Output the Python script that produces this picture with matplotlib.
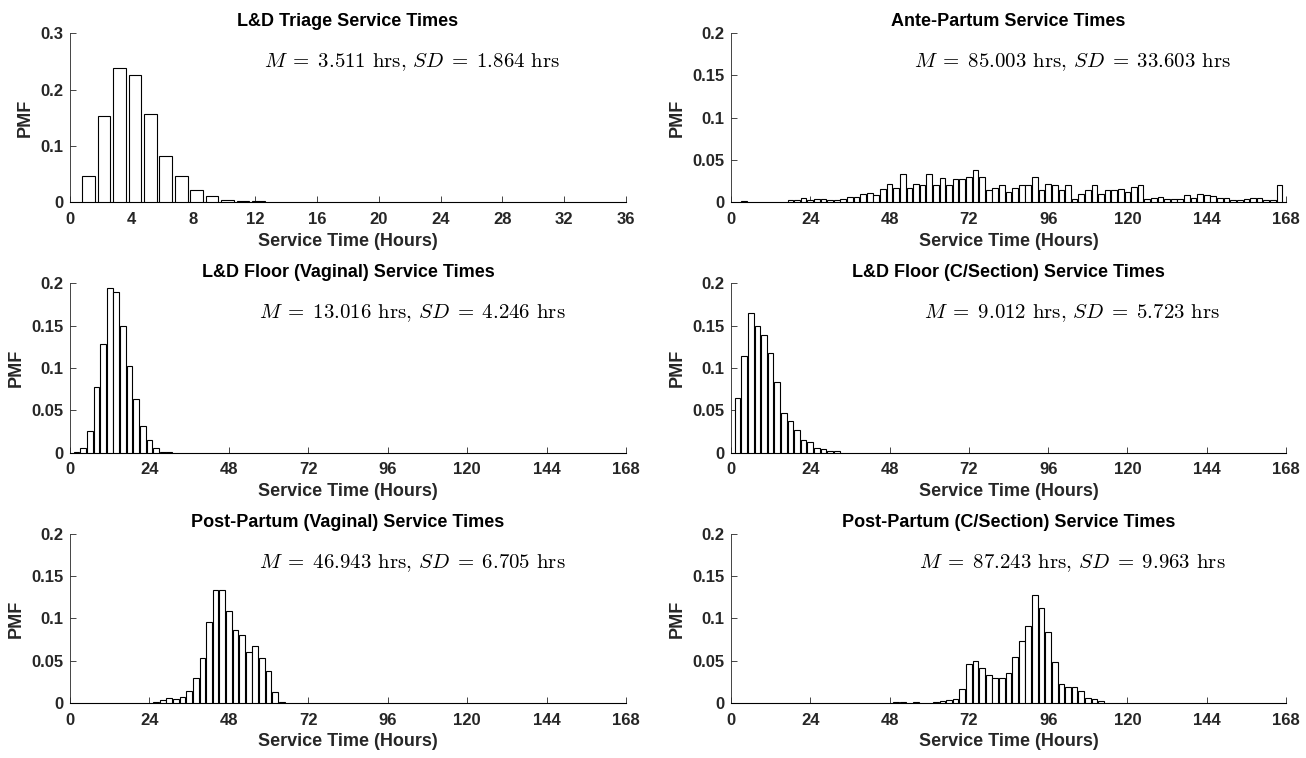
"""
Service time PMFs for six hospital units (3x2 grid of bar histograms)
"""

import numpy as np
import matplotlib.pyplot as plt

plt.rcParams['font.family'] = ['Liberation Sans', 'DejaVu Sans']
plt.rcParams['font.weight'] = 'bold'
plt.rcParams['mathtext.fontset'] = 'cm'

# =============================================================================
# 1. DATA
# =============================================================================

triage_hours = [1.2, 2.2, 3.2, 4.2, 5.2, 6.2, 7.2, 8.2, 9.2, 10.2, 11.2, 12.2]
triage_pmf = [0.046, 0.153, 0.239, 0.225, 0.157, 0.083, 0.046, 0.021,
              0.011, 0.004, 0.002, 0.002]

ante_hours = [4] + list(range(18, 168, 2))
ante_pmf = [0.001,
            0.0024, 0.0024, 0.005, 0.003, 0.0044, 0.0044, 0.0024, 0.003,
            0.0044, 0.0064, 0.0064, 0.0096, 0.011, 0.0088, 0.016, 0.022,
            0.017, 0.034, 0.017, 0.022, 0.020, 0.034, 0.021, 0.029,
            0.021, 0.028, 0.028, 0.030, 0.038, 0.030, 0.015, 0.017,
            0.021,
            0.012, 0.017, 0.020, 0.020, 0.030, 0.015, 0.022, 0.020,
            0.014, 0.021, 0.0044, 0.010, 0.014, 0.020, 0.010, 0.015,
            0.015, 0.016, 0.012, 0.018, 0.020, 0.0044, 0.005, 0.0064,
            0.0044, 0.0044, 0.0044, 0.0084, 0.005, 0.0096, 0.0084, 0.0072,
            0.005, 0.005, 0.0024, 0.0024, 0.004, 0.005, 0.005, 0.0024,
            0.0024, 0.021]

vag_floor_hours = [2, 4, 6, 8, 10, 12, 14, 16, 18, 20, 22, 24, 26, 28, 30]
vag_floor_pmf = [0.001, 0.005, 0.026, 0.078, 0.128, 0.195, 0.190, 0.150,
                 0.103, 0.063, 0.032, 0.015, 0.006, 0.001, 0.0005]

cs_floor_hours = [2, 4, 6, 8, 10, 12, 14, 16, 18, 20, 22, 24, 26, 28, 30, 32]
cs_floor_pmf = [0.065, 0.114, 0.165, 0.150, 0.139, 0.118, 0.084, 0.047,
                0.037, 0.027, 0.015, 0.013, 0.006, 0.004, 0.002, 0.002]

pp_vag_hours = list(range(26, 66, 2))
pp_vag_pmf = [0.001, 0.004, 0.006, 0.005, 0.007, 0.014, 0.030, 0.053,
              0.096, 0.133, 0.134, 0.109, 0.086, 0.080, 0.060, 0.067,
              0.053, 0.038, 0.013, 0.001]

pp_cs_hours = [50, 52, 56] + list(range(62, 114, 2))
pp_cs_pmf = [0.001, 0.001, 0.001, 0.001, 0.002, 0.004, 0.005, 0.016,
             0.046, 0.050, 0.041, 0.033, 0.029, 0.030, 0.035, 0.054,
             0.073, 0.091, 0.128, 0.112, 0.084, 0.048, 0.023, 0.019,
             0.019, 0.014, 0.006, 0.005, 0.002]

titles = ['L&D Triage Service Times',
          'Ante-Partum Service Times',
          'L&D Floor (Vaginal) Service Times',
          'L&D Floor (C/Section) Service Times',
          'Post-Partum (Vaginal) Service Times',
          'Post-Partum (C/Section) Service Times']

means = [3.511, 85.003, 13.016, 9.012, 46.943, 87.243]
sds = [1.864, 33.603, 4.246, 5.723, 6.705, 9.963]

# =============================================================================
# 2. FIGURE
# =============================================================================

AXIS_COLOR = '#262626'

fig = plt.figure(figsize=(13.06, 7.58), dpi=100)
fig.patch.set_facecolor('white')

col_x = [0.0536, 0.5597]
col_w = [0.4257, 0.4250]
row_y = [0.7331, 0.4028, 0.0726]
row_h = 0.2232

panels = [
    (triage_hours, triage_pmf, 0.82, 36, 4, 0.3, 0.1),
    (ante_hours, ante_pmf, 1.72, 168, 24, 0.2, 0.05),
    (vag_floor_hours, vag_floor_pmf, 1.72, 168, 24, 0.2, 0.05),
    (cs_floor_hours, cs_floor_pmf, 1.72, 168, 24, 0.2, 0.05),
    (pp_vag_hours, pp_vag_pmf, 1.72, 168, 24, 0.2, 0.05),
    (pp_cs_hours, pp_cs_pmf, 1.72, 168, 24, 0.2, 0.05),
]

for i, (hours, pmf, bar_w, xmax, xstep, ymax, ystep) in enumerate(panels):
    row, col = divmod(i, 2)
    ax = fig.add_axes([col_x[col], row_y[row], col_w[col], row_h])

    ax.bar(hours, pmf, width=bar_w, color='white',
           edgecolor='black', linewidth=0.8, zorder=3)

    ax.set_xlim(0, xmax)
    ax.set_ylim(0, ymax)
    ax.set_xticks(np.arange(0, xmax + 1, xstep))
    yt = np.round(np.arange(0, ymax + ystep / 2, ystep), 3)
    ax.set_yticks(yt)
    ax.set_yticklabels([f'{v:g}' for v in yt])

    for side in ['top', 'right']:
        ax.spines[side].set_visible(False)
    ax.spines['left'].set_color(AXIS_COLOR)
    ax.spines['left'].set_linewidth(0.6)
    ax.spines['bottom'].set_color('black')
    ax.spines['bottom'].set_linewidth(0.8)
    ax.tick_params(direction='in', length=4, width=0.6, colors=AXIS_COLOR,
                   labelsize=12)
    ax.tick_params(axis='x', pad=7)
    ax.tick_params(axis='y', pad=4.5)

    ax.set_title(titles[i], fontsize=13, fontweight='bold',
                 color='black', pad=5)
    ax.set_xlabel('Service Time (Hours)', fontsize=13, fontweight='bold',
                  color=AXIS_COLOR, labelpad=4)
    ax.set_ylabel('PMF', fontsize=13, fontweight='bold', color=AXIS_COLOR,
                  labelpad=5)

    # LaTeX-artige Statistikzeile: Mathe kursiv, Text in Computer Modern
    stats = (rf'$M\;=\;{means[i]:.3f}$ hrs, '
             rf'$SD\;=\;{sds[i]:.3f}$ hrs')
    ax.text(0.615, 0.798, stats, transform=ax.transAxes, fontsize=15,
            family='cmr10', fontweight='normal',
            ha='center', va='baseline', color='black')

plt.savefig('out.png', dpi=100, facecolor='white')
